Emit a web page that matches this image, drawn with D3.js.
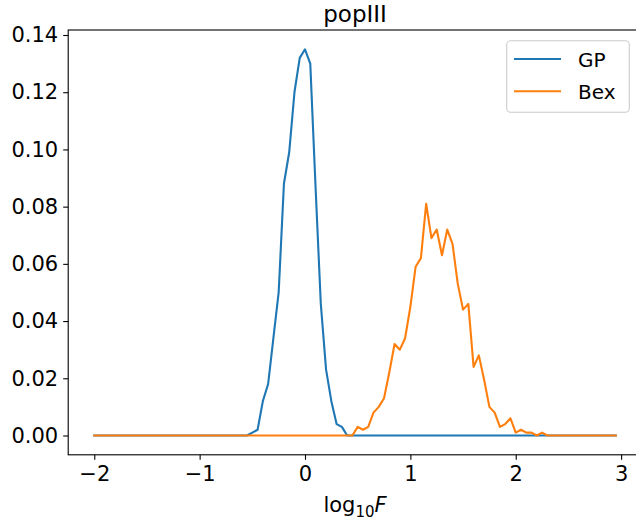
<!DOCTYPE html>
<html>
<head>
<meta charset="utf-8">
<script src="https://cdn.jsdelivr.net/npm/d3@7"></script>
<style>
  body { margin: 0; background: #fff; }
  svg { display: block; font-family: "DejaVu Sans", sans-serif; }
</style>
</head>
<body>
<svg id="chart" width="636" height="522"></svg>
<script>
// bin centres, log10 F from -2 to 2.95 in steps of 0.05
var bins = d3.range(100).map(function(i) { return -2 + i * 0.05 })

var gp = [
  0,0,0,0,0,0,0,0,0,0, 0,0,0,0,0,0,0,0,0,0, 0,0,0,0,0,0,0,0,0,0,
  0.001,0.002,0.012,0.018,0.034,0.050,0.088,0.099,0.120,0.132,
  0.135,0.130,0.087,0.046,0.023,0.012,0.004,0.003,
  0,0,0,0,0,0,0,0,0,0, 0,0,0,0,0,0,0,0,0,0, 0,0,0,0,0,0,0,0,0,0,
  0,0,0,0,0,0,0,0,0,0, 0,0,0,0,0,0,0,0,0,0, 0,0
]

var bex = [
  0,0,0,0,0,0,0,0,0,0, 0,0,0,0,0,0,0,0,0,0, 0,0,0,0,0,0,0,0,0,0,
  0,0,0,0,0,0,0,0,0,0, 0,0,0,0,0,0,0,0,0,0,
  0.003,0.002,0.003,0.008,0.010,0.013,0.022,0.032,0.030,0.034,
  0.045,0.059,0.062,0.081,0.069,0.072,0.063,0.072,0.067,0.053,
  0.044,0.046,0.024,0.028,0.0195,0.010,0.008,0.003,0.004,0.006,
  0.001,0.002,0.001,0.001,0,0.001,
  0,0,0,0,0,0,0,0,0,0, 0,0,0,0
]

var seriesNames = ["GP", "Bex"]
var seriesColors = ["#1f77b4", "#ff7f0e"]

var xTicks = [-2, -1, 0, 1, 2, 3]
var yTicks = [0, 0.02, 0.04, 0.06, 0.08, 0.10, 0.12, 0.14]

function drawChart() {
  var series = [gp, bex]
  var pl = 68.2, pr = 641.9, pt = 30, pb = 454.8

  var svg = d3.select("#chart")

  var x = d3.scaleLinear().domain([-2.2475, 3.1975]).range([pl, pr])
  var y = d3.scaleLinear().domain([-0.00675, 0.14175]).range([pb, pt])

  // lines
  var line = d3.line()
    .x(function(d, i) { return x(bins[i]) })
    .y(function(d) { return y(d) })

  series.forEach(function(vals, k) {
    svg.append("path")
      .attr("d", line(vals))
      .attr("fill", "none")
      .attr("stroke", seriesColors[k])
      .attr("stroke-width", 2.1)
      .attr("stroke-linejoin", "round")
      .attr("stroke-linecap", "square")
  })

  // axes
  var xAxis = svg.append("g")
    .attr("transform", "translate(0," + pb + ")")
    .call(d3.axisBottom(x).tickValues(xTicks).tickSize(5).tickPadding(6)
          .tickFormat(d3.format("d")))
  var yAxis = svg.append("g")
    .attr("transform", "translate(" + pl + ",0)")
    .call(d3.axisLeft(y).tickValues(yTicks).tickSize(5).tickPadding(5)
          .tickFormat(d3.format(".2f")))

  ;[xAxis, yAxis].forEach(function(a) {
    a.select(".domain").remove()
    a.selectAll(".tick line").attr("stroke", "#000").attr("stroke-width", 1.1)
    a.selectAll(".tick text").attr("fill", "#000")
      .style("font-size", "21px").style("font-family", "DejaVu Sans")
  })

  // spines
  svg.append("rect")
    .attr("x", pl).attr("y", pt)
    .attr("width", pr - pl).attr("height", pb - pt)
    .attr("fill", "none").attr("stroke", "#000").attr("stroke-width", 1.1)

  // title
  svg.append("text")
    .attr("x", (pl + pr) / 2).attr("y", 21.5)
    .attr("text-anchor", "middle")
    .style("font-size", "23px")
    .text("popIII")

  // x label
  var xl = svg.append("text")
    .attr("x", (pl + pr) / 2).attr("y", 512)
    .attr("text-anchor", "middle")
    .style("font-size", "21px")
  xl.append("tspan").text("log")
  xl.append("tspan").attr("dy", 5).style("font-size", "15px").text("10")
  xl.append("tspan").attr("dy", -5).style("font-style", "italic").text("F")

  // legend
  var lg = svg.append("g")
  lg.append("rect")
    .attr("x", 506.7).attr("y", 40.7).attr("width", 122.6).attr("height", 71.6)
    .attr("rx", 4)
    .attr("fill", "#fff").attr("fill-opacity", 0.8)
    .attr("stroke", "#ccc").attr("stroke-width", 1.1)

  seriesNames.forEach(function(name, i) {
    var ly = 59 + i * 32.3
    lg.append("line")
      .attr("x1", 514).attr("x2", 561).attr("y1", ly).attr("y2", ly)
      .attr("stroke", seriesColors[i]).attr("stroke-width", 2.1)
    lg.append("text")
      .attr("x", 578).attr("y", ly + 7.5)
      .style("font-size", "20px")
      .text(name)
  })
}

drawChart()
</script>
</body>
</html>
